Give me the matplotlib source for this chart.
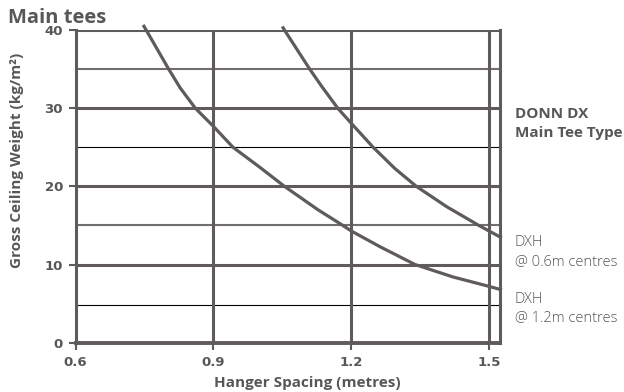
import matplotlib
matplotlib.use('Agg')
import matplotlib.pyplot as plt

x_06 = [1.052, 1.055, 1.110, 1.136, 1.171, 1.200, 1.248, 1.295, 1.342, 1.408, 1.478, 1.500, 1.525]
y_06 = [40.3, 40.0, 35.0, 32.8, 30.0, 28.1, 25.0, 22.3, 20.0, 17.4, 15.0, 14.3, 13.5]
x_12 = [0.749, 0.754, 0.803, 0.828, 0.861, 0.900, 0.943, 1.000, 1.055, 1.128, 1.182, 1.200,
        1.262, 1.339, 1.422, 1.500, 1.525]
y_12 = [40.5, 40.0, 35.0, 32.6, 30.0, 27.7, 25.0, 22.5, 20.0, 17.0, 15.0, 14.3,
        12.3, 10.0, 8.4, 7.2, 6.8]

x_ticks = [0.6, 0.9, 1.2, 1.5]
y_ticks = [0, 10, 20, 30, 40]
minor_grid = [15, 35]
thin_grid = [4.8, 25]

grey = '#5f5a5c'
text_grey = '#57575a'

fig = plt.figure(figsize=(6.24, 3.92), dpi=100)
ax = fig.add_axes([0.121, 0.126, 0.681, 0.797])
ax.set_xlim(0.6, 1.525)
ax.set_ylim(0, 40)

for y in y_ticks[1:]:
    ax.axhline(y, color=grey, lw=2.2, zorder=1)
for y in minor_grid:
    ax.axhline(y, color='#726d6f', lw=1.5, zorder=1)
for y in thin_grid:
    ax.axhline(y, color='black', lw=0.8, zorder=1)
for x in x_ticks[1:]:
    ax.axvline(x, color=grey, lw=2.2, zorder=1)

ax.plot(x_06, y_06, color=grey, lw=2.3, clip_on=False, zorder=3)
ax.plot(x_12, y_12, color=grey, lw=2.3, clip_on=False, zorder=3)

for s in ['left', 'right']:
    ax.spines[s].set_color(grey)
    ax.spines[s].set_linewidth(2.2)
ax.spines['bottom'].set_color(grey)
ax.spines['bottom'].set_linewidth(2.8)
ax.spines['top'].set_visible(False)

ax.set_xticks(x_ticks)
ax.set_yticks(y_ticks)
ax.set_xticklabels(['0.6', '0.9', '1.2', '1.5'])
ax.tick_params(axis='both', length=5, width=1.5, color=grey, labelcolor=text_grey,
               labelsize=9.5)
ax.tick_params(axis='x', pad=5)
ax.tick_params(axis='y', pad=4)
for lab in ax.get_xticklabels() + ax.get_yticklabels():
    lab.set_family(['Liberation Sans Narrow', 'DejaVu Sans'])
    lab.set_fontweight('bold')

fig.text(0.492, 0.012, 'Hanger Spacing (metres)', family='Open Sans', fontweight='bold',
         fontsize=11, color=text_grey, ha='center', va='baseline')
fig.text(0.028, 0.59, 'Gross Ceiling Weight (kg/m²)', family='Open Sans', fontweight='bold',
         fontsize=11, color=text_grey, ha='center', va='center', rotation=90)

fig.text(0.013, 0.9405, 'Main tees', family='Open Sans', fontweight='bold',
         fontsize=14.5, color=text_grey, va='baseline')
fig.text(0.825, 0.685, 'DONN DX\nMain Tee Type', family='Open Sans', fontweight='bold',
         fontsize=11, color=text_grey, va='center', linespacing=1.4)
fig.text(0.825, 0.357, 'DXH\n@ 0.6m centres', family='Open Sans', fontweight='light',
         fontsize=10.5, color=text_grey, va='center', linespacing=1.35)
fig.text(0.825, 0.213, 'DXH\n@ 1.2m centres', family='Open Sans', fontweight='light',
         fontsize=10.5, color=text_grey, va='center', linespacing=1.35)

fig.savefig('out.png', dpi=100)
